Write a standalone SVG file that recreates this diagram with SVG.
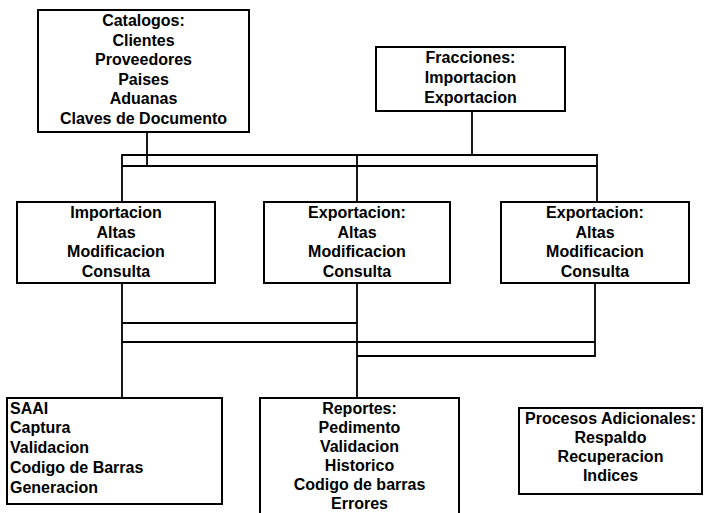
<svg xmlns="http://www.w3.org/2000/svg" width="704" height="513" viewBox="0 0 704 513">
<style>
.box{fill:#fff;stroke:#000;stroke-width:2}
.ln{fill:none;stroke:#000;stroke-width:1.8}
text{font-family:"Liberation Sans",Arial,sans-serif;font-weight:bold;font-size:16px;fill:#000}
.c{text-anchor:middle}
</style>
<rect width="704" height="513" fill="#fff"/>
<g id="connectors">
<path class="ln" d="M147,132V166M472,111V155"/>
<path class="ln" d="M122,202V155H597V202M122,166H597M357,155V202"/>
<path class="ln" d="M122,283V398M357,283V398M595,283V356H357M122,323H357M122,342H595"/>
</g>
<g id="catalogos">
<rect class="box" x="38" y="10" width="211" height="122"/>
<text class="c" x="143.5" y="26">Catalogos:</text>
<text class="c" x="143.5" y="45.5">Clientes</text>
<text class="c" x="143.5" y="65">Proveedores</text>
<text class="c" x="143.5" y="84.5">Paises</text>
<text class="c" x="143.5" y="104">Aduanas</text>
<text class="c" x="143.5" y="123.5">Claves de Documento</text>
</g>
<g id="fracciones">
<rect class="box" x="376" y="47" width="189" height="64"/>
<text class="c" x="470.5" y="63">Fracciones:</text>
<text class="c" x="470.5" y="83">Importacion</text>
<text class="c" x="470.5" y="102.5">Exportacion</text>
</g>
<g id="importacion">
<rect class="box" x="17" y="202" width="198" height="81"/>
<text class="c" x="116" y="218">Importacion</text>
<text class="c" x="116" y="237.5">Altas</text>
<text class="c" x="116" y="257">Modificacion</text>
<text class="c" x="116" y="276.5">Consulta</text>
</g>
<g id="exportacion1">
<rect class="box" x="264" y="202" width="186" height="81"/>
<text class="c" x="357" y="218">Exportacion:</text>
<text class="c" x="357" y="237.5">Altas</text>
<text class="c" x="357" y="257">Modificacion</text>
<text class="c" x="357" y="276.5">Consulta</text>
</g>
<g id="exportacion2">
<rect class="box" x="501" y="202" width="188" height="81"/>
<text class="c" x="595" y="218">Exportacion:</text>
<text class="c" x="595" y="237.5">Altas</text>
<text class="c" x="595" y="257">Modificacion</text>
<text class="c" x="595" y="276.5">Consulta</text>
</g>
<g id="saai">
<rect class="box" x="7" y="398" width="215" height="106"/>
<text x="10" y="413.5">SAAI</text>
<text x="10" y="433">Captura</text>
<text x="10" y="453">Validacion</text>
<text x="10" y="473">Codigo de Barras</text>
<text x="10" y="492.5">Generacion</text>
</g>
<g id="reportes">
<rect class="box" x="260" y="398" width="199" height="130"/>
<text class="c" x="359.5" y="414">Reportes:</text>
<text class="c" x="359.5" y="433">Pedimento</text>
<text class="c" x="359.5" y="452">Validacion</text>
<text class="c" x="359.5" y="471">Historico</text>
<text class="c" x="359.5" y="490">Codigo de barras</text>
<text class="c" x="359.5" y="508.5">Errores</text>
</g>
<g id="procesos">
<rect class="box" x="519" y="408" width="183" height="86"/>
<text class="c" x="610.5" y="424">Procesos Adicionales:</text>
<text class="c" x="610.5" y="443">Respaldo</text>
<text class="c" x="610.5" y="462">Recuperacion</text>
<text class="c" x="610.5" y="481">Indices</text>
</g>
</svg>
